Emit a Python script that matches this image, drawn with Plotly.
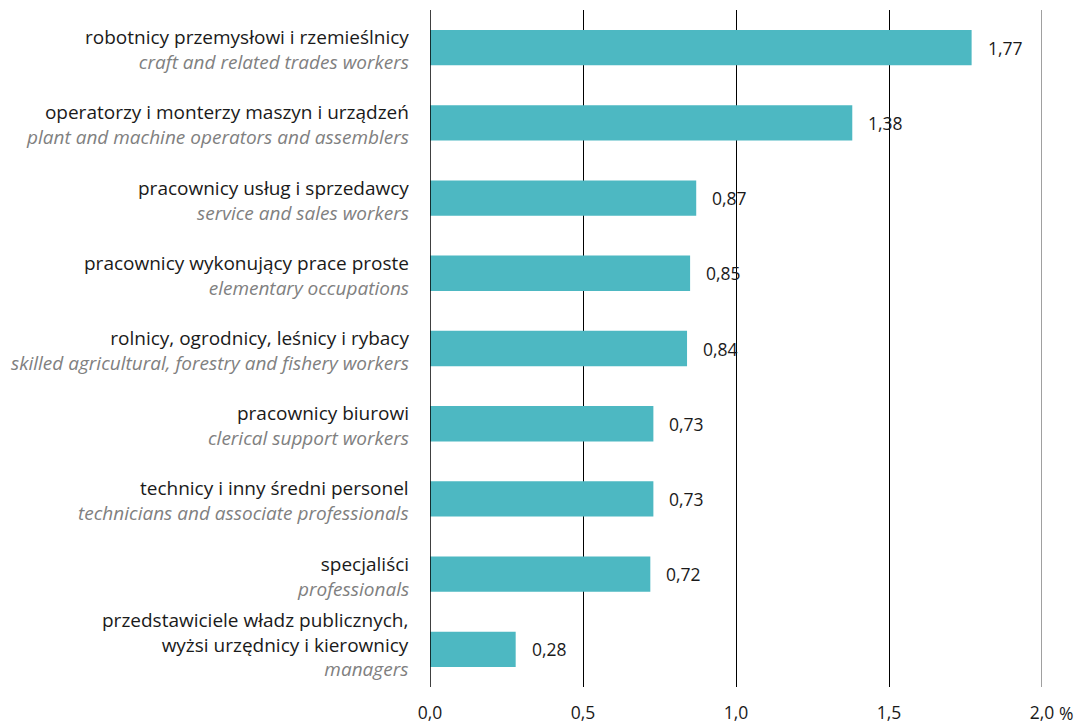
import plotly.graph_objects as go

labels_pl = [
    "robotnicy przemysłowi i rzemieślnicy",
    "operatorzy i monterzy maszyn i urządzeń",
    "pracownicy usług i sprzedawcy",
    "pracownicy wykonujący prace proste",
    "rolnicy, ogrodnicy, leśnicy i rybacy",
    "pracownicy biurowi",
    "technicy i inny średni personel",
    "specjaliści",
    "przedstawiciele władz publicznych,<br>wyżsi urzędnicy i kierownicy",
]
labels_en = [
    "craft and related trades workers",
    "plant and machine operators and assemblers",
    "service and sales workers",
    "elementary occupations",
    "skilled agricultural, forestry and fishery workers",
    "clerical support workers",
    "technicians and associate professionals",
    "professionals",
    "managers",
]
values = [1.77, 1.38, 0.87, 0.85, 0.84, 0.73, 0.73, 0.72, 0.28]
tick_vals = [0, 0.5, 1.0, 1.5, 2.0]
tick_text = ["0,0", "0,5", "1,0", "1,5", "2,0"]

FONT = "Open Sans"
BAR = "#4db8c2"

cats = list(range(len(values)))

fig = go.Figure(go.Bar(
    x=values, y=cats, orientation="h",
    marker=dict(color=BAR, line=dict(width=0)),
    width=0.47, hoverinfo="skip",
))

ann = []
for i, (pl, en, v) in enumerate(zip(labels_pl, labels_en, values)):
    nlines = pl.count("<br>") + 2
    txt = pl + "<br><i><span style='color:#808080'>" + en + "</span></i>"
    ann.append(dict(x=0, y=i, xref="x", yref="y", xanchor="right", yanchor="middle",
                    align="right", xshift=-19, yshift=-2 + (nlines - 2) * 7, text=txt,
                    showarrow=False, font=dict(family=FONT, size=19, color="#1a1a1a")))
    ann.append(dict(x=v, y=i, xref="x", yref="y", xanchor="left", yanchor="middle",
                    xshift=14, text=f"{v:.2f}".replace(".", ","), showarrow=False,
                    font=dict(family=FONT, size=17.5, color="#1a1a1a")))

ann.append(dict(x=tick_vals[-1], y=0, xref="x", yref="paper", xanchor="left", yanchor="middle",
                xshift=15, yshift=-25.5, text="%", showarrow=False,
                font=dict(family=FONT, size=17.5, color="#1a1a1a")))

fig.update_layout(
    width=1078, height=723,
    margin=dict(l=430, r=36, t=10, b=36),
    plot_bgcolor="white", paper_bgcolor="white",
    showlegend=False, annotations=ann,
    font=dict(family=FONT, size=17.5, color="#1a1a1a"),
)
fig.update_xaxes(range=[0, 2.0], tickvals=tick_vals, ticktext=tick_text,
                 showgrid=True, gridcolor="#000000", gridwidth=1,
                 zeroline=False, showline=False, ticks="", ticklabelstandoff=13,
                 automargin=False,
                 tickfont=dict(family=FONT, size=17.5, color="#1a1a1a"), fixedrange=True)
fig.update_yaxes(range=[len(values) - 0.5, -0.5], showticklabels=False, showgrid=False,
                 zeroline=False, showline=False, ticks="", fixedrange=True, automargin=False)
fig.add_shape(type="line", xref="x", yref="paper", x0=0, x1=0, y0=0, y1=1,
              line=dict(color="#000000", width=1.5), layer="above")
fig.add_shape(type="line", xref="x", yref="paper", x0=tick_vals[-1], x1=tick_vals[-1], y0=0, y1=1,
              line=dict(color="#808080", width=1.5), layer="below")

fig.write_html("out.html", config={"displayModeBar": False},
               post_script="document.body.style.margin='0';document.body.style.overflow='hidden';")
